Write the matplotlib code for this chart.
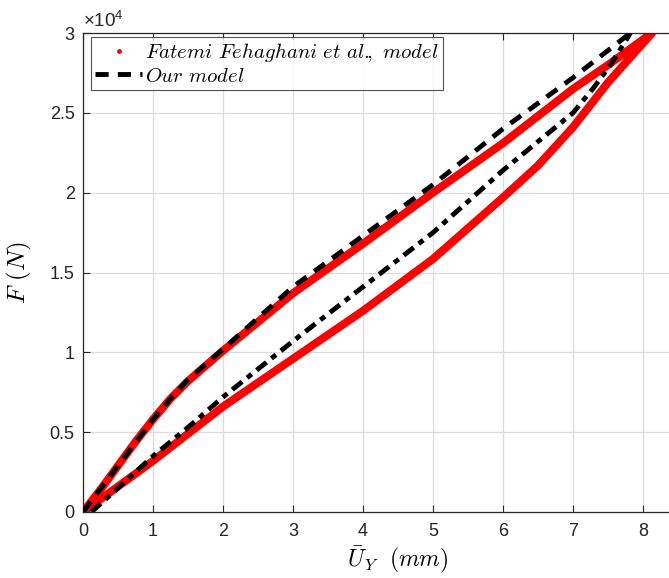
import numpy as np
import matplotlib
matplotlib.use("Agg")
import matplotlib.pyplot as plt
from matplotlib.lines import Line2D
from matplotlib.ticker import FuncFormatter, MultipleLocator

plt.rcParams["font.family"] = ["Liberation Sans", "DejaVu Sans"]
plt.rcParams["mathtext.fontset"] = "cm"

# Fatemi Fehaghani et al. model (loading / unloading branch)
ref_up_x = [0, 0.25, 0.5, 0.75, 1.0, 1.25, 1.5, 2.0, 2.5, 3.0, 4.0, 5.0, 6.0, 7.0, 7.5, 8.13]
ref_up_f = [0, 1400, 2900, 4400, 5800, 7100, 8200, 10100, 11900, 13700, 16800, 20000,
            23100, 26500, 28000, 30000]
ref_lo_x = [0, 0.5, 1.0, 1.5, 2.0, 3.0, 4.0, 5.0, 6.0, 6.5, 7.0, 7.5, 8.13]
ref_lo_f = [0, 1600, 3200, 4900, 6600, 9600, 12600, 15850, 19700, 21700, 24100,
            26900, 30000]

# Our model
our_up_x = [0, 0.5, 1.0, 1.25, 1.5, 2.0, 3.0, 4.0, 5.0, 6.0, 7.0, 7.82]
our_up_f = [0, 2900, 5800, 7100, 8300, 10200, 14100, 17300, 20500, 24000, 27200, 30000]
our_lo_x = [0.12, 0.5, 1.0, 1.5, 2.0, 3.0, 4.0, 5.0, 6.0, 6.5, 7.0, 7.3, 7.55, 7.82]
our_lo_f = [0, 1500, 3500, 5300, 7200, 10700, 14100, 17500, 21400, 23200, 25000,
            26600, 28100, 30000]

fig = plt.figure(figsize=(6.69, 5.78), dpi=100)
ax = fig.add_axes([83 / 669, 66 / 578, 630 / 669, 479 / 578])

ref_x = np.concatenate([ref_up_x, ref_lo_x[::-1]])
ref_f = np.concatenate([ref_up_f, ref_lo_f[::-1]])
ax.plot(ref_x, ref_f, color="red", lw=5.8, solid_joinstyle="round",
        solid_capstyle="round", zorder=2)
ax.plot(our_up_x, our_up_f, color="black", lw=3.5, ls=(0, (2.7, 1.9)), zorder=3)
ax.plot(our_lo_x, our_lo_f, color="black", lw=3.5, ls=(0, (2.6, 1.3, 1.2, 1.3)),
        zorder=3)

ax.set_xlim(0, 9)
ax.set_ylim(0, 30000)
ax.set_xticks(range(0, 9))
ax.yaxis.set_major_locator(MultipleLocator(5000))
ax.yaxis.set_major_formatter(FuncFormatter(lambda v, p: f"{v / 1e4:g}"))
ax.grid(True, color="#dcdcdc", lw=0.9)
ax.set_axisbelow(True)
ax.tick_params(direction="in", top=True, right=True, labelsize=13,
               colors="#262626", length=5, width=0.8)
ax.tick_params(axis="x", pad=8)
ax.tick_params(axis="y", pad=6)
for s in ax.spines.values():
    s.set_color("#262626")
    s.set_linewidth(0.9)

ax.text(0.0, 1.004, r"$\mathregular{\times10^{4}}$", transform=ax.transAxes,
        ha="left", va="bottom", fontsize=13.5, color="#262626")
ax.set_xlabel(r"$\bar{U}_Y\ \ (mm)$", fontsize=17, labelpad=3)
ax.set_ylabel(r"$F\ (N)$", fontsize=18, labelpad=11)

handles = [Line2D([], [], color="red", marker=".", ls="none", ms=5),
           Line2D([], [], color="black", lw=3.5, ls=(0, (2.7, 1.9)))]
labels = [r"$Fatemi\ Fehaghani\ et\ al.\!\!,\ model$", r"$Our\ model$"]
leg = ax.legend(handles, labels, loc="upper left", bbox_to_anchor=(0.013, 0.991),
                fontsize=15, frameon=True, fancybox=False, edgecolor="#262626",
                handlelength=2.25, handletextpad=0.15, borderpad=0.2,
                labelspacing=0.1, borderaxespad=0)
leg.get_frame().set_linewidth(0.8)

fig.savefig("out.png", dpi=100)
